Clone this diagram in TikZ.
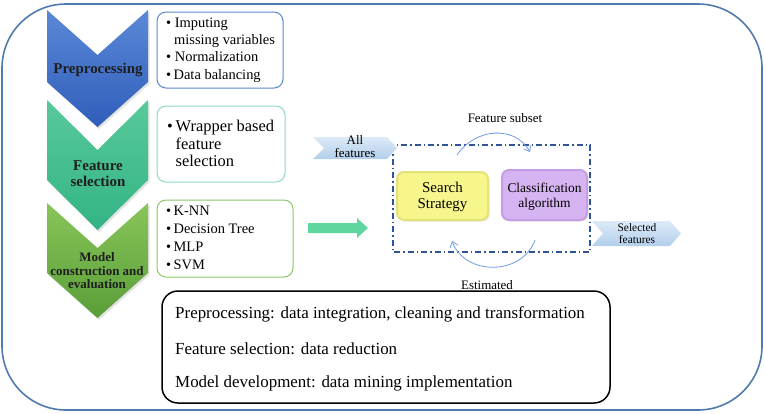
\documentclass[tikz,border=0pt]{standalone}
\usepackage{fontspec}
\setmainfont{Liberation Serif}
\usetikzlibrary{arrows.meta,shadows}
\definecolor{outerc}{HTML}{4E7AAE}
\definecolor{blueA}{HTML}{5B88D6}
\definecolor{blueB}{HTML}{2F5EBB}
\definecolor{tealA}{HTML}{58C99C}
\definecolor{tealB}{HTML}{33B484}
\definecolor{grnA}{HTML}{88C55A}
\definecolor{grnB}{HTML}{5A9E38}
\definecolor{bordA}{HTML}{5B87D0}
\definecolor{bordB}{HTML}{8ED8B8}
\definecolor{bordC}{HTML}{8CC66A}
\definecolor{mint}{HTML}{5ED69E}
\definecolor{dashc}{HTML}{2F5597}
\definecolor{lblueA}{HTML}{DCEAF7}
\definecolor{lblueB}{HTML}{B3CFEB}
\definecolor{yelF}{HTML}{F6F68C}
\definecolor{yelD}{HTML}{E6E27A}
\definecolor{purF}{HTML}{D6B3F1}
\definecolor{purD}{HTML}{C49DE4}
\definecolor{arcc}{HTML}{6E9DE6}
\definecolor{labc}{HTML}{1E1E1E}
\tikzset{
  chev/.style={drop shadow={opacity=0.22,shadow xshift=1.5bp,shadow yshift=-2bp}},
  chevlab/.style={font=\bfseries\fontsize{15}{16}\selectfont, text=labc, align=center, inner sep=0pt},
  bulbox/.style={draw, line width=1bp, rounded corners=9bp, minimum height=0pt, inner sep=0pt},
  bultext/.style={align=left, inner sep=0pt, anchor=west},
  tag/.style={font=\fontsize{13}{13}\selectfont, align=center, inner sep=0pt},
  algbox/.style={line width=2bp, rounded corners=7bp,
    drop shadow={opacity=0.2,shadow xshift=1.5bp,shadow yshift=-1.5bp}},
  loop/.style={arcc, line width=0.8bp, -{Straight Barb[length=5bp,width=8bp]}},
  sumtext/.style={font=\fontsize{17}{17}\selectfont, inner sep=0pt, anchor=west}
}
\begin{document}
\begin{tikzpicture}[x=1bp,y=-1bp]
\useasboundingbox (0,0) rectangle (764,413);
% outer frame
\draw[outerc, line width=1.6bp, rounded corners=64bp] (2,4) rectangle (762,410);

% chevrons
\path[chev, top color=blueA, bottom color=blueB]
  (47,10) -- (97.5,55) -- (148,10) -- (148,82) -- (97.5,127) -- (47,82) -- cycle;
\path[chev, top color=tealA, bottom color=tealB]
  (47,100) -- (97.5,150) -- (148,100) -- (148,180) -- (97.5,230) -- (47,180) -- cycle;
\path[chev, top color=grnA, bottom color=grnB]
  (47,203) -- (97.5,248) -- (148,203) -- (148,273) -- (97.5,318) -- (47,273) -- cycle;
\node[chevlab] (pre) at (98,70) {Preprocessing};
\node[chevlab] (fsel) at (98,174) {Feature\\selection};
\node[chevlab, font=\bfseries\fontsize{13}{13.5}\selectfont] (model) at (97,271)
  {Model\\construction and\\evaluation};

% bullet boxes
\draw[bordA, line width=1bp, rounded corners=9bp] (157,12) rectangle (283,88);
\node[bultext, font=\fontsize{14.5}{17.3}\selectfont] (t1) at (166,50)
  {\textbullet\ Imputing\\\hspace*{8bp}missing variables\\\textbullet\ Normalization\\\textbullet\,Data balancing};
\draw[bordB, line width=1bp, rounded corners=9bp] (157,106) rectangle (285,182);
\node[bultext, font=\fontsize{16.5}{17.5}\selectfont] (t2) at (167,143.5)
  {\textbullet\,Wrapper based\\\hspace*{8.5bp}feature\\\hspace*{8.5bp}selection};
\draw[bordC, line width=1bp, rounded corners=9bp] (157,200) rectangle (293,277);
\node[bultext, font=\fontsize{14.5}{18}\selectfont] (t3) at (166,238)
  {\textbullet\,K-NN\\\textbullet\,Decision Tree\\\textbullet\,MLP\\\textbullet\,SVM};

% green arrow
\path[fill=mint] (308,223) -- (357,223) -- (357,218) -- (368,228) -- (357,238) -- (357,233) -- (308,233) -- cycle;

% wrapper frame
\draw[dashc, line width=1.2bp, dash pattern=on 6bp off 3bp on 1.5bp off 3bp] (393,145) rectangle (590,252);

% input / output chevrons
\path[top color=lblueA, bottom color=lblueB]
  (313,137) -- (387,137) -- (397,148) -- (387,159) -- (313,159) -- (324,148) -- cycle;
\node[tag] (allf) at (355,147) {All\\features};
\path[top color=lblueA, bottom color=lblueB]
  (592,221) -- (670,221) -- (681,233.5) -- (670,246) -- (592,246) -- (603,233.5) -- cycle;
\node[tag, font=\fontsize{11.5}{12}\selectfont] (self) at (637,234) {Selected\\features};

% algorithm boxes
\path[algbox, fill=yelF, draw=yelD] (397,172) rectangle (488,220);
\node[font=\fontsize{15}{16}\selectfont, align=center, inner sep=0pt] (search) at (442.5,197) {Search\\Strategy};
\path[algbox, fill=purF, draw=purD] (502,170) rectangle (587,220);
\node[font=\fontsize{13.5}{15}\selectfont, align=center, inner sep=0pt] (clas) at (544.5,196.5) {Classification\\algorithm};

% loop arrows
\coordinate (ta) at (457,155);
\coordinate (tb) at (530,152);
\coordinate (ba) at (535,240);
\coordinate (bb) at (452,241);
\draw[loop] (ta) .. controls (475,128) and (515,125) .. (tb);
\draw[loop] (ba) .. controls (522,276) and (465,276) .. (bb);
\node[tag] (fsub) at (505,118) {Feature subset};
\node[tag] (est) at (487,285) {Estimated};

% summary box
\draw[black, line width=1.5bp, rounded corners=16bp] (162,291) rectangle (610,403);
\node[sumtext] (s1) at (175,314) {Preprocessing: data integration, cleaning and transformation};
\node[sumtext] (s2) at (175,349) {Feature selection: data reduction};
\node[sumtext] (s3) at (175,383) {Model development: data mining implementation};
\end{tikzpicture}
\end{document}
